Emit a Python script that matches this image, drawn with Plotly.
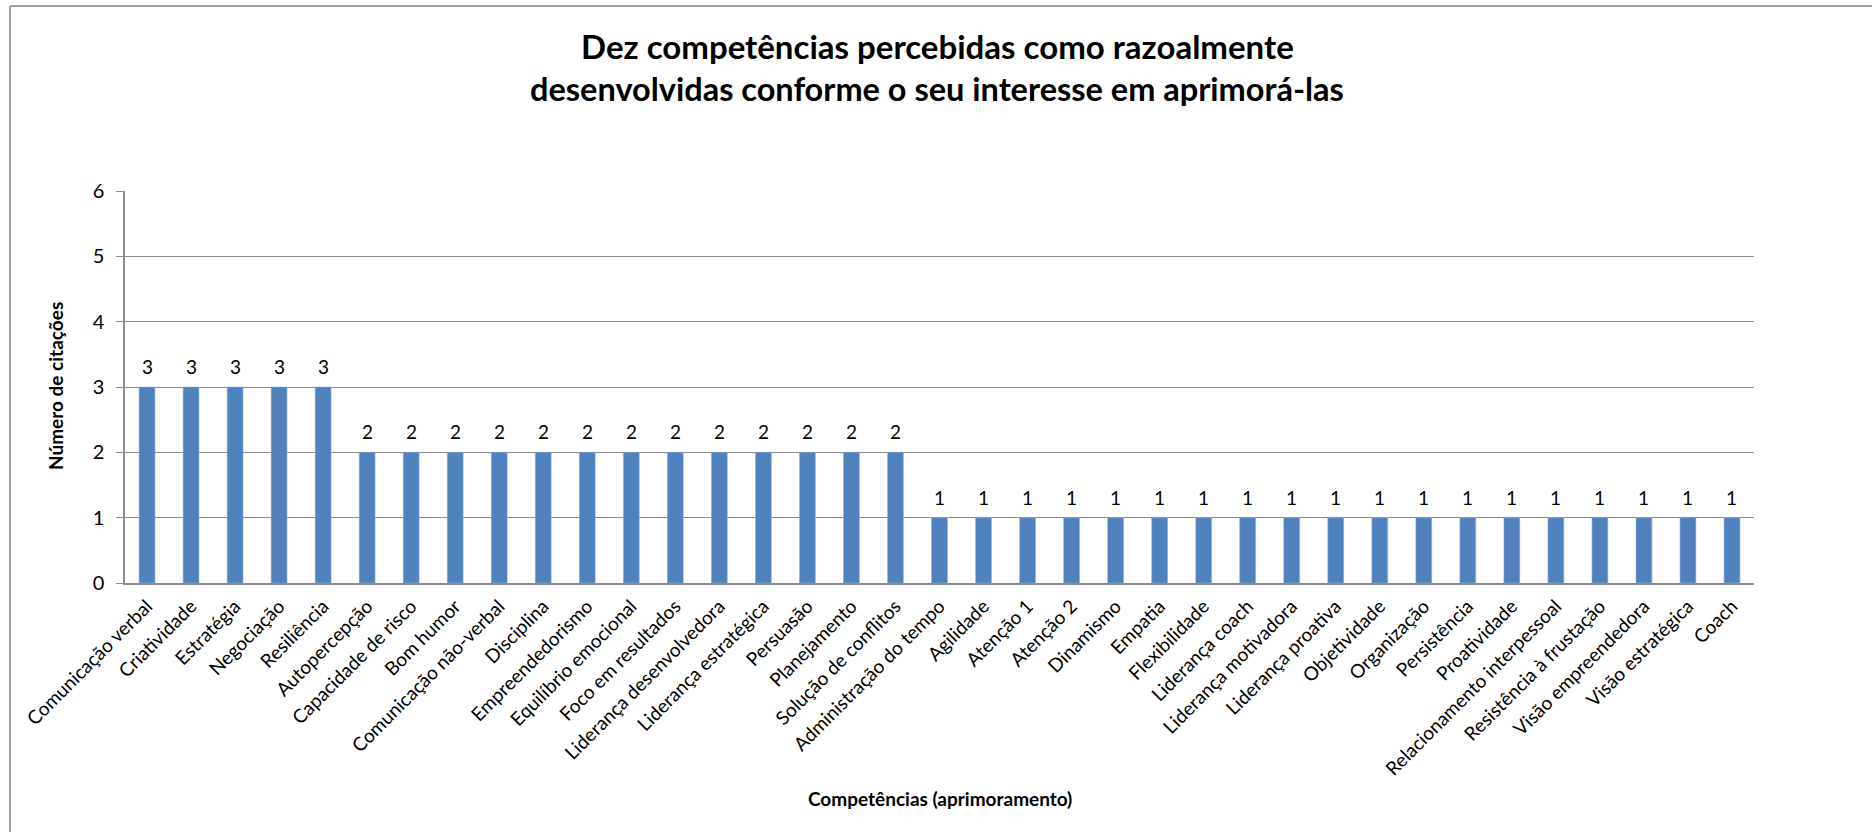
import plotly.graph_objects as go

categories = [
    "Comunicação verbal", "Criatividade", "Estratégia", "Negociação", "Resiliência",
    "Autopercepção", "Capacidade de risco", "Bom humor", "Comunicação não-verbal",
    "Disciplina", "Empreendedorismo", "Equilíbrio emocional", "Foco em resultados",
    "Liderança desenvolvedora", "Liderança estratégica", "Persuasão", "Planejamento",
    "Solução de conflitos", "Administração do tempo", "Agilidade", "Atenção 1",
    "Atenção 2", "Dinamismo", "Empatia", "Flexibilidade", "Liderança coach",
    "Liderança motivadora", "Liderança proativa", "Objetividade", "Organização",
    "Persistência", "Proatividade", "Relacionamento interpessoal",
    "Resistência à frustação", "Visão empreendedora", "Visão estratégica", "Coach",
]
values = [3, 3, 3, 3, 3,
          2, 2, 2, 2, 2, 2, 2, 2, 2, 2, 2, 2, 2,
          1, 1, 1, 1, 1, 1, 1, 1, 1, 1, 1, 1, 1, 1, 1, 1, 1, 1, 1]
y_ticks = [0, 1, 2, 3, 4, 5, 6]

title_line1 = "Dez competências percebidas como razoalmente"
title_line2 = "desenvolvidas conforme o seu interesse em aprimorá-las"
x_title = "Competências (aprimoramento)"
y_title = "Número de citações"

FONT = "Lato"
L, R, T, B = 125, 118, 191, 249
W, H = 1872, 832
PW = W - L - R
PH = H - T - B


def px_x(x):
    return (x - L) / PW


def px_y(y):
    return (H - B - y) / PH


fig = go.Figure()
fig.add_trace(go.Bar(
    x=categories, y=values,
    marker=dict(color="#4F81BD", line=dict(color="#8eaed6", width=0.6)),
    hoverinfo="x+y",
))

label_annotations = [
    dict(x=c, y=v, xref="x", yref="y", text=str(v), showarrow=False,
         yanchor="bottom", xanchor="center", yshift=7,
         font=dict(family=FONT, size=19, color="#000000"))
    for c, v in zip(categories, values)
]

fig.update_layout(
    width=W, height=H,
    margin=dict(l=L, r=R, t=T, b=B),
    paper_bgcolor="white", plot_bgcolor="white",
    showlegend=False,
    bargap=0.64,
    font=dict(family=FONT, color="#000000"),
    xaxis=dict(
        type="category", tickangle=-45,
        tickfont=dict(family=FONT, size=19, color="#000000"),
        showline=True, linecolor="#8c8c8c", linewidth=1.5,
        showgrid=False, ticks="", automargin=False,
        ticklabelstandoff=3,
    ),
    yaxis=dict(
        range=[0, 6], tickvals=y_ticks,
        tickfont=dict(family=FONT, size=20, color="#000000"),
        showline=True, linecolor="#8c8c8c", linewidth=1.5,
        showgrid=True, gridcolor="#8c8c8c", gridwidth=1.2,
        ticks="outside", ticklen=7, tickcolor="#8c8c8c", tickwidth=1.2,
        zeroline=False, automargin=False,
        ticklabelstandoff=8,
    ),
    annotations=label_annotations + [
        dict(text="<b>" + title_line1 + "</b>", x=px_x(937), y=px_y(46),
             xref="paper", yref="paper", showarrow=False,
             font=dict(family=FONT, size=33, color="#000000"),
             xanchor="center", yanchor="middle"),
        dict(text="<b>" + title_line2 + "</b>", x=px_x(937), y=px_y(88),
             xref="paper", yref="paper", showarrow=False,
             font=dict(family=FONT, size=32.5, color="#000000"),
             xanchor="center", yanchor="middle"),
        dict(text="<b>" + x_title + "</b>", x=px_x(940), y=px_y(798),
             xref="paper", yref="paper", showarrow=False,
             font=dict(family=FONT, size=19, color="#000000"),
             xanchor="center", yanchor="middle"),
        dict(text="<b>" + y_title + "</b>", x=px_x(55), y=px_y(386),
             xref="paper", yref="paper", showarrow=False, textangle=-90,
             font=dict(family=FONT, size=19, color="#000000"),
             xanchor="center", yanchor="middle"),
    ],
    shapes=[
        dict(type="line", xref="paper", yref="paper",
             x0=px_x(10), x1=px_x(W + 5), y0=px_y(6), y1=px_y(6),
             line=dict(color="#a0a0a0", width=2)),
        dict(type="line", xref="paper", yref="paper",
             x0=px_x(10), x1=px_x(10), y0=px_y(6), y1=px_y(H + 5),
             line=dict(color="#a0a0a0", width=2)),
    ],
)

fig.write_html("out.html")
